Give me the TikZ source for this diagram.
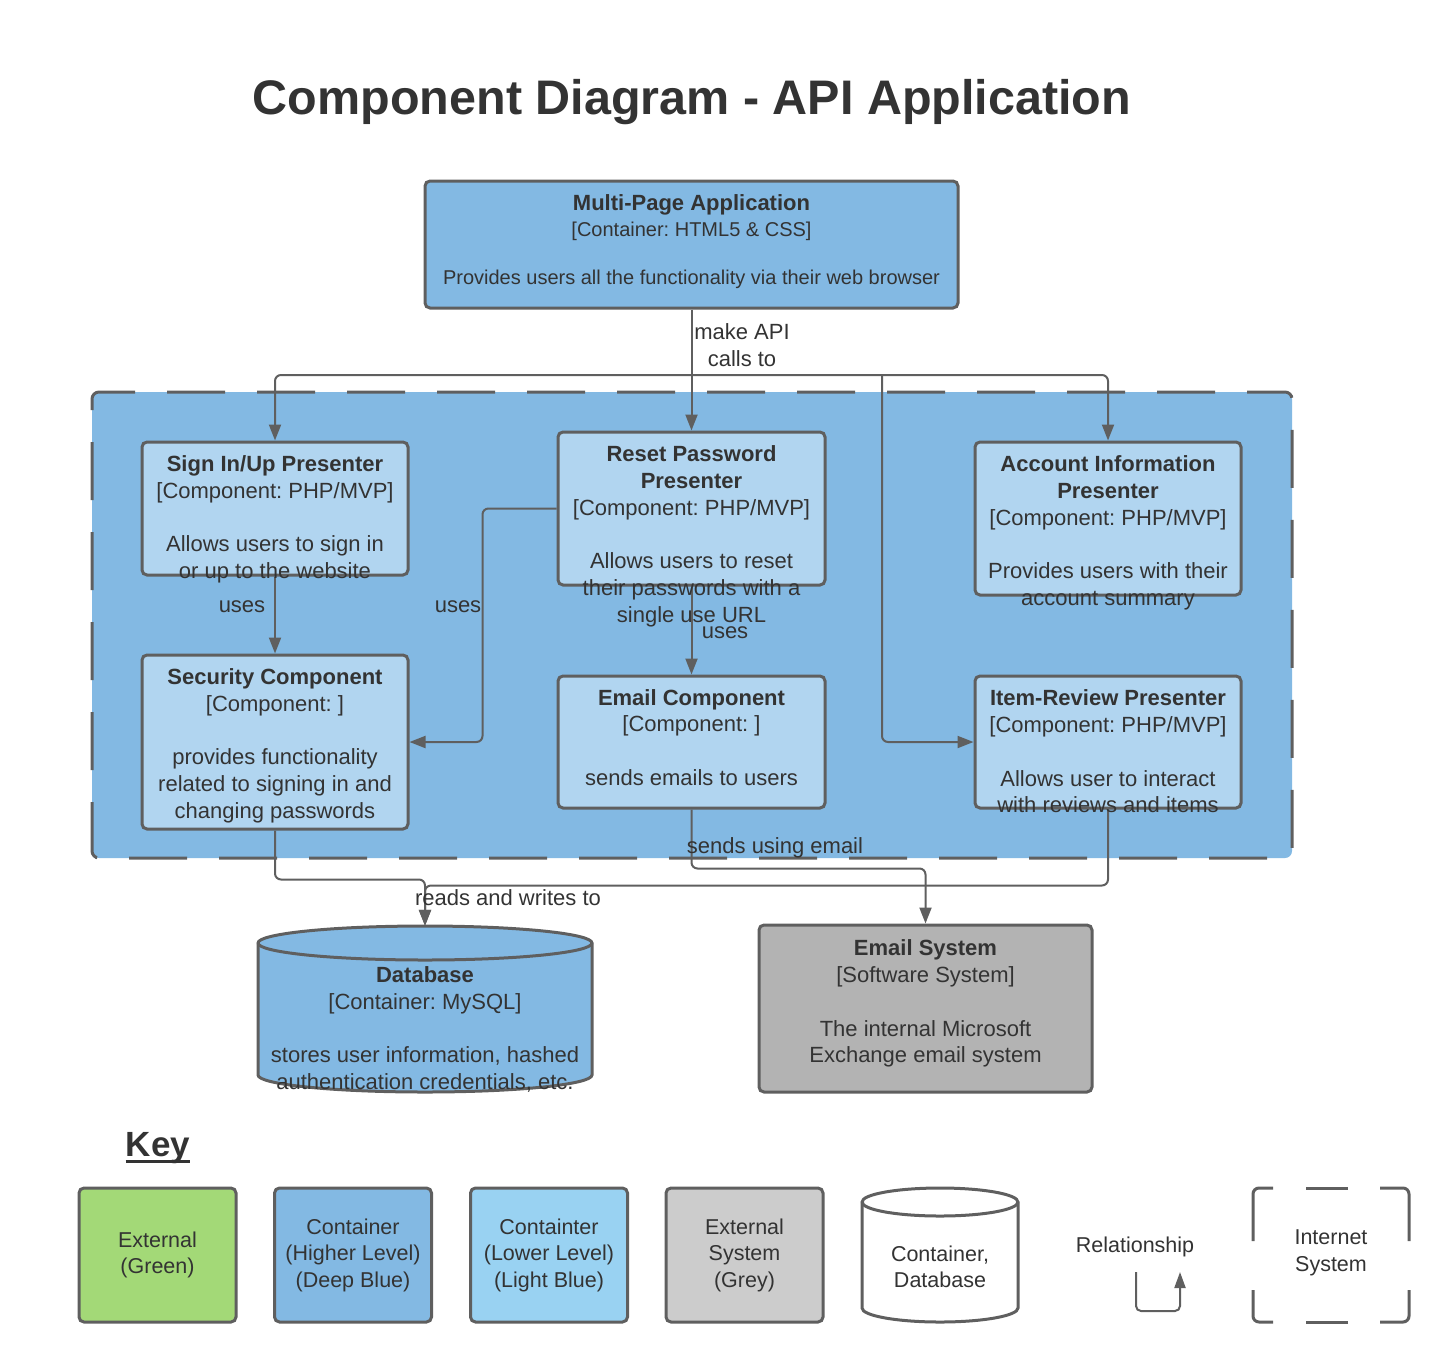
\documentclass[tikz,border=0pt]{standalone}
\usepackage{fontspec}
\setmainfont{Liberation Sans}
\usetikzlibrary{arrows.meta}
\definecolor{deepblue}{HTML}{83B9E3}
\definecolor{compblue}{HTML}{B1D5F0}
\definecolor{keyblue}{HTML}{99D2F2}
\definecolor{esgrey}{HTML}{B3B3B3}
\definecolor{keygrey}{HTML}{CCCCCC}
\definecolor{keygreen}{HTML}{A3D977}
\definecolor{edge}{HTML}{5F5F5F}
\definecolor{ink}{HTML}{333333}
\frenchspacing
\begin{document}
\frenchspacing
\begin{tikzpicture}[x=1pt,y=-1pt,
  box/.style={draw=edge, line width=3pt, rounded corners=5pt, inner sep=0pt},
  comp/.style={box, fill=compblue, minimum width=266pt},
  txt/.style={text=ink, align=center, inner sep=0pt, font=\fontsize{22}{26.8}\selectfont},
  lbl/.style={text=ink, align=center, inner sep=0pt, font=\fontsize{22}{27}\selectfont},
  keybox/.style={box, minimum width=157pt, minimum height=134pt, text=ink, align=center, font=\fontsize{21.5}{26.5}\selectfont},
  keytxt/.style={text=ink, align=center, inner sep=0pt, font=\fontsize{21.5}{26.5}\selectfont},
  conn/.style={draw=edge, line width=2pt, rounded corners=6pt, -{Triangle[length=16pt,width=12pt]}},
  dashseg/.style={draw=edge, line width=3pt, rounded corners=6pt},
]
\useasboundingbox (0,0) rectangle (1450,1363);

% title
\node[text=ink, inner sep=0pt, font=\fontsize{48.5}{58}\selectfont\bfseries, anchor=base] (title) at (692,114) {Component Diagram - API Application};

% boundary
\node[draw=edge, fill=deepblue, line width=3pt, rounded corners=7pt, dash pattern=on 58pt off 32pt, dash phase=20pt, minimum width=1200pt, minimum height=466pt, inner sep=0pt] (bound) at (692,625) {};

% boxes
\node[box, fill=deepblue, minimum width=533pt, minimum height=127pt] (mpa) at (691.5,244.5) {};
\node[comp, minimum height=133pt] (signin) at (275,508.5) {};
\node[comp, minimum width=267pt, minimum height=153pt] (rp) at (691.5,508.5) {};
\node[comp, minimum height=153pt] (acc) at (1108,518.5) {};
\node[comp, minimum height=174pt] (sec) at (275,742) {};
\node[comp, minimum width=267pt, minimum height=132pt] (email) at (691.5,742) {};
\node[comp, minimum height=132pt] (item) at (1108,742) {};
\node[box, fill=esgrey, minimum width=333pt, minimum height=167pt] (es) at (925.5,1008.5) {};

% database cylinder
\node[inner sep=0pt, minimum width=334pt, minimum height=166pt] (db) at (425,1009) {};
\path[fill=deepblue, draw=edge, line width=3pt] (258,943) -- (258,1075)
  arc[start angle=180, end angle=360, x radius=167pt, y radius=17pt] -- (592,943)
  arc[start angle=0, end angle=180, x radius=167pt, y radius=17pt] -- cycle;
\draw[edge, line width=3pt] (258,943) arc[start angle=180, end angle=360, x radius=167pt, y radius=17pt];

% connectors
\coordinate (j) at (691.5,375);
\coordinate (jr) at (882,375);
\draw[conn] (mpa.south) -- (rp.north);
\draw[conn] (j) -| (signin.north);
\draw[conn] (j) -| (acc.north);
\draw[conn] (jr) |- (item.west);
\draw[conn] (signin.south) -- (sec.north);
\draw[conn] (rp.west) -- ++(-74,0) |- (sec.east);
\draw[conn] (rp.south) -- (email.north);
\draw[conn] (sec.south) -- ++(0,49) -| (db.north);
\draw[conn] (item.south) -- ++(0,76) -| (db.north);
\draw[conn] (email.south) -- ++(0,59) -| (es.north);

% box texts
\node[txt, font=\fontsize{20}{24}\selectfont] (mpa-t) at (691.5,242) {{\fontsize{22}{24}\selectfont\bfseries Multi-Page Application}\\[2pt]\relax[Container: HTML5 \& CSS]\\[24pt]Provides users all the functionality via their web browser};
\node[txt] (signin-t) at (275,519.5) {{\bfseries Sign In/Up Presenter}\\\relax[Component: PHP/MVP]\\[26.8pt]Allows users to sign in\\or up to the website};
\node[txt] (rp-t) at (691.5,536.5) {{\bfseries Reset Password}\\{\bfseries Presenter}\\\relax[Component: PHP/MVP]\\[26.8pt]Allows users to reset\\their passwords with a\\single use URL};
\node[txt] (acc-t) at (1108,533) {{\bfseries Account Information}\\{\bfseries Presenter}\\\relax[Component: PHP/MVP]\\[26.8pt]Provides users with their\\account summary};
\node[txt] (sec-t) at (275,745.5) {{\bfseries Security Component}\\\relax[Component: ]\\[26.8pt]provides functionality\\related to signing in and\\changing passwords};
\node[txt] (email-t) at (691.5,737.5) {{\bfseries Email Component}\\\relax[Component: ]\\[26.8pt]sends emails to users};
\node[txt] (item-t) at (1108,751.5) {{\bfseries Item-Review Presenter}\\\relax[Component: PHP/MVP]\\[26.8pt]Allows user to interact\\with reviews and items};
\node[txt] (db-t) at (425,1029.5) {{\bfseries Database}\\\relax[Container: MySQL]\\[26.8pt]stores user information, hashed\\authentication credentials, etc.};
\node[txt] (es-t) at (925.5,1003.5) {{\bfseries Email System}\\\relax[Software System]\\[26.8pt]The internal Microsoft\\Exchange email system};

% connector labels
\node[lbl] (l1) at (742,345) {make API\\calls to};
\node[lbl] (l2) at (242,607) {uses};
\node[lbl] (l3) at (458,607) {uses};
\node[lbl] (l4) at (725,633) {uses};
\node[lbl] (l5) at (508,898) {reads and writes to};
\node[lbl] (l6) at (775,848) {sends using email};

% key
\node[text=ink, inner sep=0pt, font=\fontsize{35}{40}\selectfont\bfseries, anchor=base] (key) at (158,1156) {Key};
\draw[ink, line width=3pt] ([yshift=-5pt]key.base west) -- ([yshift=-5pt]key.base east);
\node[keybox, fill=keygreen] (kg) at (157.5,1255) {External\\(Green)};
\node[keybox, fill=deepblue] (kd) at (353,1255) {Container\\(Higher Level)\\(Deep Blue)};
\node[keybox, fill=keyblue] (kl) at (549,1255) {Containter\\(Lower Level)\\(Light Blue)};
\node[keybox, fill=keygrey] (kgr) at (744.5,1255) {External\\System\\(Grey)};

% key cylinder
\node[inner sep=0pt, minimum width=156pt, minimum height=134pt] (kc) at (940,1255) {};
\path[fill=white, draw=edge, line width=3pt] (862,1202) -- (862,1308)
  arc[start angle=180, end angle=360, x radius=78pt, y radius=14pt] -- (1018,1202)
  arc[start angle=0, end angle=180, x radius=78pt, y radius=14pt] -- cycle;
\draw[edge, line width=3pt] (862,1202) arc[start angle=180, end angle=360, x radius=78pt, y radius=14pt];
\node[keytxt] (kc-t) at (940,1267) {Container,\\Database};

% relationship
\node[keytxt] (kr) at (1135,1247) {Relationship};
\coordinate (ra) at (1136,1272);
\coordinate (rb) at (1180,1272);
\draw[draw=edge, line width=2pt, rounded corners=5pt, -{Triangle[length=16pt,width=11pt]}] (ra) -- ++(0,39) -| (rb);

% internet system
\node[keytxt] (ki) at (1331,1253) {Internet\\System};
\draw[dashseg] (1253,1241) -- (1253,1188) -- (1273,1188);
\draw[dashseg] (1306,1188) -- (1348,1188);
\draw[dashseg] (1380,1188) -- (1409,1188) -- (1409,1241);
\draw[dashseg] (1409,1290) -- (1409,1322) -- (1380,1322);
\draw[dashseg] (1348,1322) -- (1306,1322);
\draw[dashseg] (1273,1322) -- (1253,1322) -- (1253,1290);
\end{tikzpicture}
\end{document}
